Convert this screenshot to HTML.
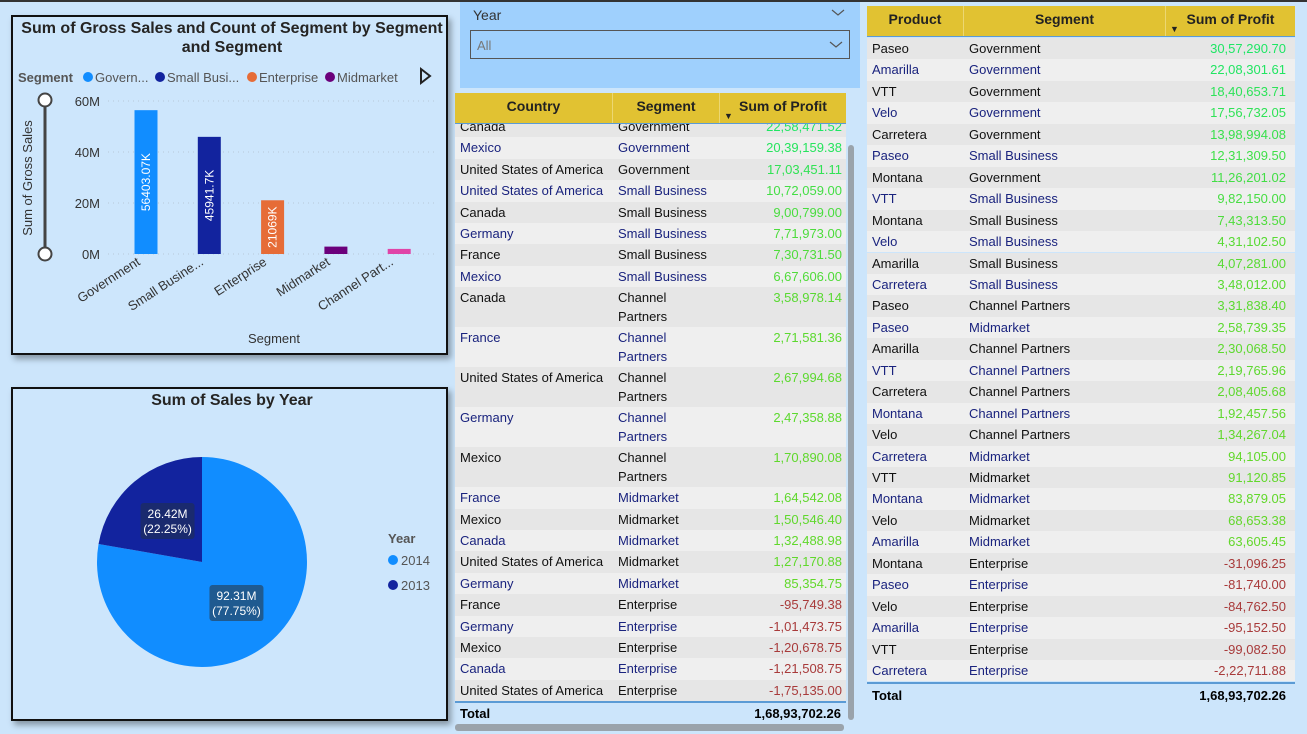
<!DOCTYPE html>
<html><head><meta charset="utf-8">
<style>
*{box-sizing:border-box;margin:0;padding:0}
body{width:1307px;height:734px;overflow:hidden;background:#cce5fb;font-family:"Liberation Sans","DejaVu Sans",sans-serif;position:relative}
.abs{position:absolute}
.card{position:absolute;background:#cde6fc;border:2px solid #111;box-shadow:3px 4px 6px rgba(0,0,0,.35)}
.hdr{position:absolute;background:#e1c232;font-weight:bold;font-size:14px;color:#222}
.hdr div{position:absolute;top:0;height:100%;text-align:center;line-height:26px;border-right:1px solid #ecd772}
.row{position:absolute;font-size:13px;line-height:21px}
.row div{position:absolute;top:0;height:100%;padding-left:5px;white-space:nowrap}
</style></head><body>
<div class="abs" style="left:0;top:0;width:1307px;height:2px;background:#333"></div>

<div class="card" style="left:11px;top:15px;width:437px;height:340px"></div>
<svg class="abs" style="left:0;top:0" width="460" height="360" id="barsvg"></svg>

<div class="card" style="left:11px;top:387px;width:437px;height:334px"></div>
<svg class="abs" style="left:0;top:380px" width="460" height="354" id="piesvg"></svg>

<div class="abs" style="left:460px;top:2px;width:400px;height:86px;background:#9fd0fd">
  <div class="abs" style="left:13px;top:5px;font-size:14px;color:#333">Year</div>
  <svg class="abs" style="left:371px;top:7px" width="14" height="8"><path d="M1 1 L7 6 L13 1" fill="none" stroke="#555" stroke-width="1.2"/></svg>
  <div class="abs" style="left:10px;top:28px;width:380px;height:29px;border:1px solid #555;font-size:13px;color:#777;padding:7px 6px">All
    <svg style="position:absolute;right:6px;top:10px" width="14" height="8"><path d="M1 1 L7 6 L13 1" fill="none" stroke="#555" stroke-width="1.2"/></svg></div>
</div>

<div class="abs" style="left:455px;top:93px;width:392px;height:612px;overflow:hidden" id="ctab"></div>
<div class="hdr" style="left:455px;top:93px;width:391px;height:31px;border-bottom:1px solid #5b9bd5">
  <div style="left:0;width:158px">Country</div>
  <div style="left:158px;width:107px">Segment</div>
  <div style="left:265px;width:126px;border:0">Sum of Profit<span style="position:absolute;left:4px;top:10px;font-size:9px">&#9660;</span></div>
</div>
<div class="abs" style="left:455px;top:701px;width:391px;height:22px;border-top:2px solid #5b9bd5;font-weight:bold;font-size:13px;line-height:22px">
  <span style="position:absolute;left:5px">Total</span><span style="position:absolute;right:5px">1,68,93,702.26</span></div>
<div class="abs" style="left:848px;top:145px;width:6px;height:575px;background:#9aa3ab;border-radius:3px"></div>
<div class="abs" style="left:455px;top:724px;width:389px;height:7px;background:#9aa3ab;border-radius:3px"></div>

<div class="abs" style="left:867px;top:5px;width:428px;height:700px" id="ptab"></div>
<div class="hdr" style="left:867px;top:6px;width:428px;height:31px;border-bottom:1px solid #5b9bd5">
  <div style="left:0;width:97px">Product</div>
  <div style="left:97px;width:202px">Segment</div>
  <div style="left:299px;width:129px;border:0">Sum of Profit<span style="position:absolute;left:4px;top:10px;font-size:9px">&#9660;</span></div>
</div>
<div class="abs" style="left:867px;top:682px;width:428px;height:24px;border-top:2px solid #5b9bd5;font-weight:bold;font-size:13px;line-height:24px">
  <span style="position:absolute;left:5px">Total</span><span style="position:absolute;right:9px">1,68,93,702.26</span></div>

<script>
const segments=["Government","Small Busine...","Enterprise","Midmarket","Channel Part..."];
const grossSales=[56.40,45.94,21.07,2.9,2.0];
const barLabels=["56403.07K","45941.7K","21069K","",""];
const barColors=["#118dff","#12239e","#e66c37","#6b007b","#e044a7"];
const yTicks=[0,20,40,60];
const yTickLabels=["0M","20M","40M","60M"];
const legendItems=["Govern...","Small Busi...","Enterprise","Midmarket"];

const years=["2014","2013"];
const yearSales=[92.31,26.42];
const yearColors=["#118dff","#12239e"];

const countryRows=[
["Canada","Government",2258471.52],["Mexico","Government",2039159.38],["United States of America","Government",1703451.11],
["United States of America","Small Business",1072059.00],["Canada","Small Business",900799.00],["Germany","Small Business",771973.00],
["France","Small Business",730731.50],["Mexico","Small Business",667606.00],["Canada","Channel Partners",358978.14],
["France","Channel Partners",271581.36],["United States of America","Channel Partners",267994.68],["Germany","Channel Partners",247358.88],
["Mexico","Channel Partners",170890.08],["France","Midmarket",164542.08],["Mexico","Midmarket",150546.40],["Canada","Midmarket",132488.98],
["United States of America","Midmarket",127170.88],["Germany","Midmarket",85354.75],["France","Enterprise",-95749.38],
["Germany","Enterprise",-101473.75],["Mexico","Enterprise",-120678.75],["Canada","Enterprise",-121508.75],["United States of America","Enterprise",-175135.00]];
const productRows=[
["Paseo","Government",3057290.70],["Amarilla","Government",2208301.61],["VTT","Government",1840653.71],["Velo","Government",1756732.05],
["Carretera","Government",1398994.08],["Paseo","Small Business",1231309.50],["Montana","Government",1126201.02],["VTT","Small Business",982150.00],
["Montana","Small Business",743313.50],["Velo","Small Business",431102.50],["Amarilla","Small Business",407281.00],["Carretera","Small Business",348012.00],
["Paseo","Channel Partners",331838.40],["Paseo","Midmarket",258739.35],["Amarilla","Channel Partners",230068.50],["VTT","Channel Partners",219765.96],
["Carretera","Channel Partners",208405.68],["Montana","Channel Partners",192457.56],["Velo","Channel Partners",134267.04],["Carretera","Midmarket",94105.00],
["VTT","Midmarket",91120.85],["Montana","Midmarket",83879.05],["Velo","Midmarket",68653.38],["Amarilla","Midmarket",63605.45],
["Montana","Enterprise",-31096.25],["Paseo","Enterprise",-81740.00],["Velo","Enterprise",-84762.50],["Amarilla","Enterprise",-95152.50],
["VTT","Enterprise",-99082.50],["Carretera","Enterprise",-222711.88]];

const NS="http://www.w3.org/2000/svg";
function mk(p,tag,attrs,txt){const e=document.createElementNS(NS,tag);for(const k in attrs)e.setAttribute(k,attrs[k]);if(txt!==undefined)e.textContent=txt;p.appendChild(e);return e;}

(function(){
const s=document.getElementById('barsvg');
const y0=254,y1=101,ymax=60;
const yS=v=>y0-(v/ymax)*(y0-y1);
const xS=i=>146+i*63.3;
let t=mk(s,'text',{x:232,y:33,'text-anchor':'middle','font-size':16,'font-weight':'bold',fill:'#252423'},'Sum of Gross Sales and Count of Segment by Segment');

mk(s,'text',{x:232,y:52,'text-anchor':'middle','font-size':16,'font-weight':'bold',fill:'#252423'},'and Segment');
let lg=mk(s,'text',{x:18,y:82,'font-size':13,'font-weight':'bold',fill:'#555'},'Segment');

let lx=[88,160,252,330];
legendItems.forEach((n,i)=>{
 const c=mk(s,'circle',{cx:lx[i],cy:77,r:5,fill:barColors[i]});
 
 mk(s,'text',{x:lx[i]+7,y:82,'font-size':13,fill:'#555'},n);
});
mk(s,'path',{d:'M421 69 L430 76 L421 83 Z',fill:'none',stroke:'#222','stroke-width':2});
yTicks.forEach((v,i)=>{
 mk(s,'line',{x1:108,x2:438,y1:yS(v),y2:yS(v),stroke:'#b8c8d8','stroke-dasharray':'1,4'});
 const tl=mk(s,'text',{x:100,y:yS(v)+5,'text-anchor':'end','font-size':13,fill:'#333'},yTickLabels[i]);
 
});
const yt=mk(s,'text',{x:0,y:0,transform:'translate(32,178) rotate(-90)','text-anchor':'middle','font-size':13,fill:'#333'},'Sum of Gross Sales');

mk(s,'line',{x1:45,x2:45,y1:100,y2:254,stroke:'#444','stroke-width':3});
[100,254].forEach(y=>{const c=mk(s,'circle',{cx:45,cy:y,r:6.5,fill:'#fff',stroke:'#444','stroke-width':2});});
segments.forEach((n,i)=>{
 const v=grossSales[i];const r=mk(s,'rect',{x:xS(i)-11.5,y:yS(v),width:23,height:y0-yS(v),fill:barColors[i]});
 
 if(barLabels[i]){const cy=(yS(v)+y0)/2;mk(s,'text',{x:0,y:0,transform:`translate(${xS(i)+4},${cy}) rotate(-90)`,'text-anchor':'middle','font-size':12,fill:'#fff'},barLabels[i]);}
 const xl=mk(s,'text',{x:0,y:0,transform:`translate(${xS(i)-5},${264}) rotate(-33)`,'text-anchor':'end','font-size':13,fill:'#333'},n);
 
});
const xt=mk(s,'text',{x:274,y:343,'text-anchor':'middle','font-size':13,fill:'#333'},'Segment');

})();

(function(){
const s=document.getElementById('piesvg');
const t=mk(s,'text',{x:232,y:25,'text-anchor':'middle','font-size':16,'font-weight':'bold',fill:'#252423'},'Sum of Sales by Year');

const cx=202,cy=182,r=105,tot=yearSales.reduce((a,b)=>a+b,0);
let a=-Math.PI/2;
const labelBg=["#1f5a90","#1a2a6e"];
yearSales.forEach((v,i)=>{
 const sw=v/tot*2*Math.PI;const a2=a+sw;
 const p=`M${cx} ${cy} L${cx+r*Math.cos(a)} ${cy+r*Math.sin(a)} A${r} ${r} 0 ${sw>Math.PI?1:0} 1 ${cx+r*Math.cos(a2)} ${cy+r*Math.sin(a2)} Z`;
 const e=mk(s,'path',{d:p,fill:yearColors[i]});
 
 const m=(a+a2)/2,lr=0.51;
 const lx=cx+r*lr*Math.cos(m),ly=cy+r*lr*Math.sin(m);
 mk(s,'rect',{x:lx-27,y:ly-18,width:54,height:36,rx:3,fill:labelBg[i]});
 mk(s,'text',{x:lx,y:ly-3,'text-anchor':'middle','font-size':12,fill:'#fff'},v.toFixed(2)+'M');
 mk(s,'text',{x:lx,y:ly+12,'text-anchor':'middle','font-size':12,fill:'#fff'},'('+(v/tot*100).toFixed(2)+'%)');
 a=a2;
});
const lt=mk(s,'text',{x:388,y:163,'font-size':13,'font-weight':'bold',fill:'#555'},'Year');

years.forEach((y,i)=>{
 const c=mk(s,'circle',{cx:393,cy:180+i*25,r:5,fill:yearColors[i]});
 
 mk(s,'text',{x:401,y:185+i*25,'font-size':13,fill:'#555'},y);
});
})();

function fmt(v){const neg=v<0;v=Math.abs(v);let [ip,dp]=v.toFixed(2).split('.');let last3=ip.slice(-3),rest=ip.slice(0,-3);
 if(rest)rest=rest.replace(/\B(?=(\d{2})+(?!\d))/g,',')+',';return (neg?'-':'')+rest+last3+'.'+dp;}
function col(v,max){if(v<0)return '#a83a3a';const t=Math.min(1,v/max);const g=[Math.round(100-70*t),Math.round(215+15*t),Math.round(40+60*t)];return `rgb(${g[0]},${g[1]},${g[2]})`;}
function build(id,rows,widths,top,rowH,wrapSeg,rightPad){
 const c=document.getElementById(id);let y=top;
 rows.forEach((r,i)=>{
  const two=wrapSeg&&r[1]==="Channel Partners";const h=two?40:rowH;
  const d=document.createElement('div');d.className='row';
  
  
  d.style.cssText=`left:0;top:${y}px;width:${widths[0]+widths[1]+widths[2]}px;height:${h}px;background:${i%2?'#efefef':'#e6e6e6'};color:${i%2?'#1a237e':'#111'}`;
  const segTxt=two?'Channel<br>Partners':r[1];
  d.innerHTML=`<div style="left:0;width:${widths[0]}px">${r[0]}</div><div style="left:${widths[0]}px;width:${widths[1]}px;line-height:${two?19:21}px;padding-top:${two?1:0}px">${segTxt}</div><div style="left:${widths[0]+widths[1]}px;width:${widths[2]}px;text-align:right;padding-right:${rightPad}px;color:${col(r[2],2300000)}">${fmt(r[2])}</div>`;
  c.appendChild(d);y+=h;
 });
}
build('ctab',countryRows,[158,107,126],23,21.4,true,4);
build('ptab',productRows,[97,202,129],33,21.45,false,9);
</script>
</body></html>
